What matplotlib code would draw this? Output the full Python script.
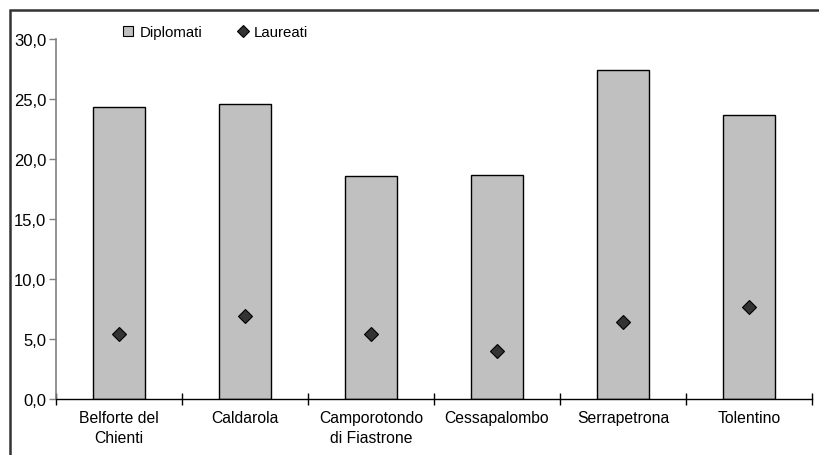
import numpy as np
import matplotlib.pyplot as plt
from matplotlib.patches import Rectangle
from matplotlib.lines import Line2D
from matplotlib.ticker import FuncFormatter

plt.rcParams['font.family'] = ['Liberation Sans', 'DejaVu Sans']

comuni = ["Belforte del\nChienti", "Caldarola", "Camporotondo\ndi Fiastrone",
          "Cessapalombo", "Serrapetrona", "Tolentino"]
diplomati = [24.3, 24.6, 18.6, 18.7, 27.4, 23.7]
laureati = [5.4, 6.9, 5.4, 4.0, 6.4, 7.7]

fig = plt.figure(figsize=(8.19, 4.56), dpi=100)
ax = fig.add_axes([56/819, 1 - 400/456, (812 - 56)/819, 360/456])

x = np.arange(len(comuni))
ax.bar(x, diplomati, width=0.41, color='#c0c0c0', edgecolor='black',
       linewidth=1, zorder=2)
ax.plot(x, laureati, linestyle='none', marker='D', markersize=7,
        markerfacecolor='#333333', markeredgecolor='black',
        markeredgewidth=0.8, zorder=3)

ax.set_xlim(-0.5, len(comuni) - 0.5)
ax.set_ylim(0, 30)
ax.set_yticks(np.arange(0, 31, 5))
ax.yaxis.set_major_formatter(FuncFormatter(lambda v, p: f"{v:.1f}".replace('.', ',')))

# category labels between boundary ticks
ax.set_xticks(np.arange(-0.5, len(comuni), 1.0))
ax.set_xticklabels([])
ax.set_xticks(x, minor=True)
ax.set_xticklabels(comuni, minor=True, fontsize=11.3, linespacing=1.4)
ax.tick_params(axis='x', which='minor', length=0, pad=8)
ax.tick_params(axis='x', which='major', direction='inout', length=8, width=1)
ax.tick_params(axis='y', direction='out', length=5, width=1, color='#808080',
               labelsize=12, pad=2)

for s in ['top', 'right']:
    ax.spines[s].set_visible(False)
ax.spines['left'].set_color('#808080')
ax.spines['left'].set_linewidth(1.2)
ax.spines['bottom'].set_color('black')
ax.spines['bottom'].set_linewidth(1)

handles = [
    Line2D([], [], linestyle='none', marker='s', markersize=7,
           markerfacecolor='#c0c0c0', markeredgecolor='black', markeredgewidth=0.8),
    Line2D([], [], linestyle='none', marker='D', markersize=6,
           markerfacecolor='#333333', markeredgecolor='black', markeredgewidth=0.8),
]
ax.legend(handles, ['Diplomati', 'Laureati'], loc='upper left',
          bbox_to_anchor=(0.070, 1.075), ncol=2, frameon=False, fontsize=10.8,
          handlelength=0.8, handletextpad=0.35, columnspacing=2.3)

# outer chart border (only top/left are inside the picture)
fig.patches.append(Rectangle((10/819, -0.1), 1.2, 1 - 10.5/456 + 0.1,
                             transform=fig.transFigure, fill=False,
                             edgecolor='#333333', linewidth=1.8))

fig.savefig('out.png', dpi=100)
